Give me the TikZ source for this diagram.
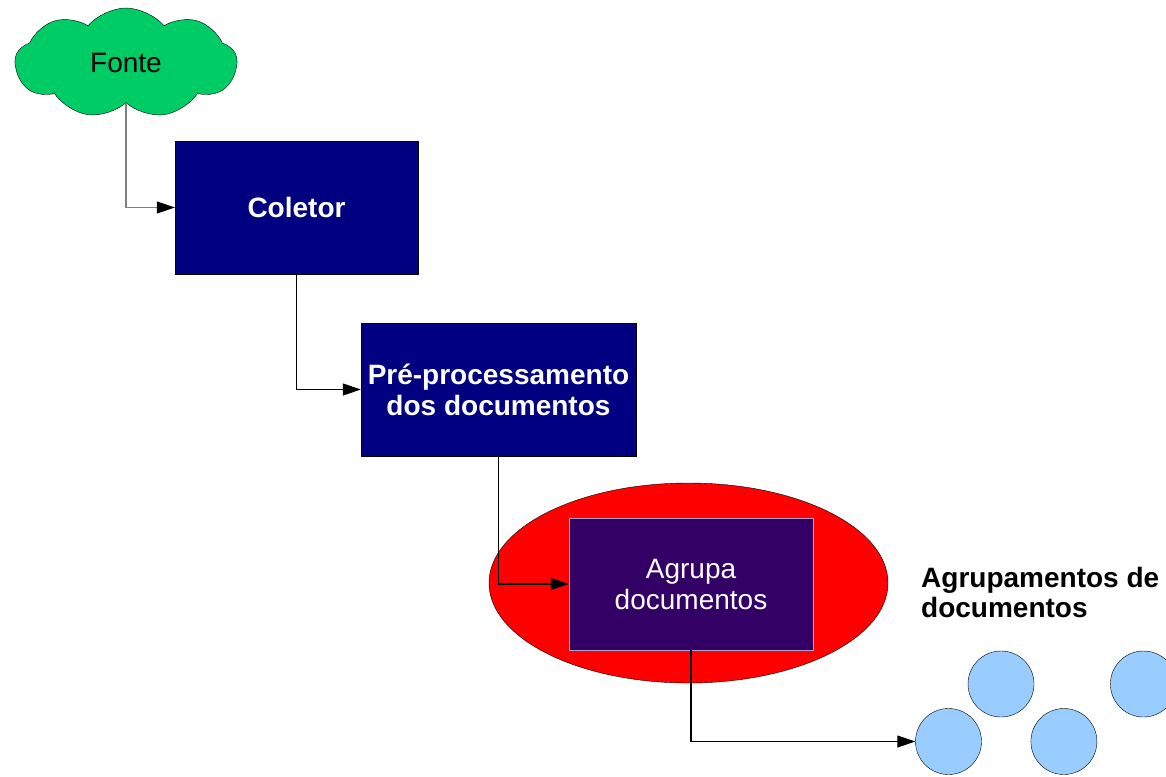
\documentclass[tikz,border=0pt]{standalone}
\usepackage{fontspec}
\setmainfont{Liberation Sans}
\usetikzlibrary{arrows.meta}
\usetikzlibrary{positioning}
\usetikzlibrary{shapes.symbols}
\usetikzlibrary{shapes.geometric}

\definecolor{fontegreen}{RGB}{0,204,102}
\definecolor{boxnavy}{RGB}{0,0,128}
\definecolor{boxpurple}{RGB}{51,0,102}
\definecolor{purpleline}{RGB}{176,160,208}
\definecolor{clusterblue}{RGB}{153,204,255}

\begin{document}
\begin{tikzpicture}[x=1pt, y=-1pt,
    every node/.style={font=\fontsize{28}{31}\selectfont, align=center},
    bluebox/.style={rectangle, draw=black, fill=boxnavy, text=white, inner sep=0pt, font=\fontsize{28}{31}\selectfont\bfseries},
    doc/.style={circle, draw=black, fill=clusterblue, minimum size=66pt, inner sep=0pt},
    link/.style={line width=1.1pt, -{Triangle[length=18pt, width=12pt, color=black]}}]
    \useasboundingbox (0,0) rectangle (1166,776);

    \node (fonte) [cloud, cloud puffs=9, cloud puff arc=100, aspect=2, draw=black, fill=fontegreen,
        minimum width=222pt, minimum height=110pt, inner sep=0pt] at (126,63) {Fonte};
    \node (coletor) [bluebox, minimum width=243pt, minimum height=133pt] at (296.5,207.5) {Coletor};
    \node (pre) [bluebox, minimum width=275pt, minimum height=133pt] at (498.5,389.5) {Pré-processamento\\dos documentos};

    \node (grupo) [ellipse, draw=black, fill=red, minimum width=399pt, minimum height=200pt] at (688.5,583) {};
    \node (agrupa) [rectangle, draw=purpleline, fill=boxpurple, text=white, inner sep=0pt,
        minimum width=244pt, minimum height=132pt] at (691,584) {Agrupa\\documentos};

    \node (c1) [doc] at (948.5,741.5) {};
    \node (c3) [doc, right=49pt of c1] {};
    \node (c2) [doc] at (1001,684) {};
    \node (c4) [doc, right=76pt of c2] {};
    \node (rotulo) [anchor=west, align=left, inner sep=0pt, font=\fontsize{28}{30}\selectfont\bfseries] at (921,592) {Agrupamentos de\\documentos};

    \draw [link, draw=gray] (fonte.south) |- (coletor.west);
    \draw [link] (coletor.south) |- (pre.west);
    \draw [link] (pre.south) |- (agrupa.west);
    \draw [link] (agrupa.south) |- (c1.west);
\end{tikzpicture}
\end{document}
